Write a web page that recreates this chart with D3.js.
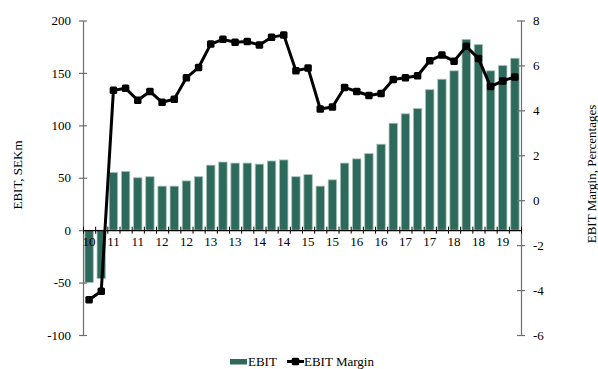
<!DOCTYPE html>
<html>
<head>
<meta charset="utf-8">
<script src="https://cdn.jsdelivr.net/npm/d3@7"></script>
<style>
  html, body { margin: 0; padding: 0; background: #fff; }
  svg { display: block; }
  text { font-family: "Liberation Serif", "Times New Roman", serif; fill: #000; }
</style>
</head>
<body>
<svg id="chart" width="598" height="369"></svg>
<script>
// Quarterly periods, Q3 2010 through Q2 2019
const quarters = [
  "2010Q3","2010Q4","2011Q1","2011Q2","2011Q3","2011Q4",
  "2012Q1","2012Q2","2012Q3","2012Q4","2013Q1","2013Q2",
  "2013Q3","2013Q4","2014Q1","2014Q2","2014Q3","2014Q4",
  "2015Q1","2015Q2","2015Q3","2015Q4","2016Q1","2016Q2",
  "2016Q3","2016Q4","2017Q1","2017Q2","2017Q3","2017Q4",
  "2018Q1","2018Q2","2018Q3","2018Q4","2019Q1","2019Q2"
];

// EBIT, SEKm
const ebit = [
  -50, -46, 55, 56, 50, 51,
  42, 42, 47, 51, 62, 65,
  64, 64, 63, 66, 67, 51,
  53, 42, 48, 64, 68, 73,
  82, 102, 111, 116, 134, 144,
  152, 182, 177, 152, 157, 164
];

// EBIT margin, %
const ebitMargin = [
  -4.43, -4.05, 4.89, 4.98, 4.45, 4.84,
  4.36, 4.50, 5.45, 5.91, 6.95, 7.16,
  7.03, 7.06, 6.91, 7.25, 7.36, 5.76,
  5.88, 4.06, 4.15, 5.02, 4.84, 4.66,
  4.75, 5.37, 5.45, 5.54, 6.21, 6.46,
  6.19, 6.85, 6.31, 5.06, 5.31, 5.49
];

// Year labels shown under every second quarter
const xTickQuarters = ["2010Q3","2011Q1","2011Q3","2012Q1","2012Q3","2013Q1","2013Q3","2014Q1","2014Q3",
                       "2015Q1","2015Q3","2016Q1","2016Q3","2017Q1","2017Q3","2018Q1","2018Q3","2019Q1"];
const xTickLabels   = ["10","11","11","12","12","13","13","14","14","15","15","16","16","17","17","18","18","19"];

const leftTicks  = [-100, -50, 0, 50, 100, 150, 200];
const rightTicks = [-6, -4, -2, 0, 2, 4, 6, 8];

const seriesNames = ["EBIT", "EBIT Margin"];

const BAR_FILL = "#2d6a5b";
const BAR_EDGE = "#a6c2b9";
const AXIS_GREY = "#6e6e6e";

const svg = d3.select("#chart");

const plotLeft = 83, plotRight = 521, plotTop = 20.5, plotBottom = 335;

const x = d3.scaleBand().domain(quarters).range([plotLeft, plotRight]).paddingInner(0).paddingOuter(0);
const xEdges = d3.scaleLinear().domain([0, quarters.length]).range([plotLeft, plotRight]);
const yL = d3.scaleLinear().domain([-100, 200]).range([plotBottom, plotTop]);
const yR = d3.scaleLinear().domain([-6, 8]).range([plotBottom, plotTop]);

const barW = x.bandwidth() * 0.69;
const plainNum = d => String(d);   // hyphen-minus, as in the printed labels

// Bars
svg.append("g")
  .selectAll("rect")
  .data(ebit)
  .join("rect")
  .attr("x", (d, i) => x(quarters[i]) + (x.bandwidth() - barW) / 2)
  .attr("y", d => yL(Math.max(0, d)))
  .attr("width", barW)
  .attr("height", d => Math.abs(yL(d) - yL(0)))
  .attr("fill", BAR_FILL)
  .attr("stroke", BAR_EDGE)
  .attr("stroke-width", 0.8);

// Left axis
const gL = svg.append("g")
  .attr("transform", `translate(${plotLeft},0)`)
  .call(d3.axisLeft(yL).tickValues(leftTicks).tickSize(0).tickPadding(12).tickFormat(plainNum));
gL.select(".domain").attr("stroke", AXIS_GREY).attr("stroke-width", 1.2);
gL.selectAll(".tick line").attr("x1", -4).attr("x2", 4).attr("stroke", AXIS_GREY).attr("stroke-width", 1.2);
gL.selectAll(".tick text").attr("font-size", 13);

// Right axis
const gR = svg.append("g")
  .attr("transform", `translate(${plotRight},0)`)
  .call(d3.axisRight(yR).tickValues(rightTicks).tickSize(0).tickPadding(12).tickFormat(plainNum));
gR.select(".domain").attr("stroke", AXIS_GREY).attr("stroke-width", 1.2);
gR.selectAll(".tick line").attr("x1", -4).attr("x2", 4).attr("stroke", AXIS_GREY).attr("stroke-width", 1.2);
gR.selectAll(".tick text").attr("font-size", 13);

// Category axis along zero: boundary ticks
const gXt = svg.append("g")
  .attr("transform", `translate(0,${yL(0)})`)
  .call(d3.axisBottom(xEdges).tickValues(d3.range(0, quarters.length + 1)).tickSize(0).tickFormat(""));
gXt.select(".domain").attr("stroke", "#000").attr("stroke-width", 1.2);
gXt.selectAll(".tick line").attr("y1", -3.5).attr("y2", 3.5).attr("stroke", "#000").attr("stroke-width", 1);

// Category axis labels
const gX = svg.append("g")
  .attr("transform", `translate(0,${yL(0)})`)
  .call(d3.axisBottom(x).tickValues(xTickQuarters).tickSize(0).tickPadding(7)
    .tickFormat(q => xTickLabels[xTickQuarters.indexOf(q)]));
gX.select(".domain").remove();
gX.selectAll(".tick text").attr("font-size", 13);

// Margin line
const line = d3.line()
  .x((d, i) => x(quarters[i]) + x.bandwidth() / 2)
  .y(d => yR(d));
svg.append("path")
  .datum(ebitMargin)
  .attr("d", line)
  .attr("fill", "none")
  .attr("stroke", "#000")
  .attr("stroke-width", 3)
  .attr("stroke-linejoin", "round");

const mk = 7.5;
svg.append("g")
  .selectAll("rect")
  .data(ebitMargin)
  .join("rect")
  .attr("x", (d, i) => x(quarters[i]) + x.bandwidth() / 2 - mk / 2)
  .attr("y", d => yR(d) - mk / 2)
  .attr("width", mk)
  .attr("height", mk)
  .attr("rx", 1.5)
  .attr("fill", "#000");

// Axis titles
svg.append("text")
  .attr("transform", `translate(22,175) rotate(-90)`)
  .attr("text-anchor", "middle")
  .attr("font-size", 13)
  .text("EBIT, SEKm");

svg.append("text")
  .attr("transform", `translate(596,174) rotate(-90)`)
  .attr("text-anchor", "middle")
  .attr("font-size", 13)
  .text("EBIT Margin, Percentages");

// Legend
const lg = svg.append("g");
lg.append("rect").attr("x", 230).attr("y", 359).attr("width", 17).attr("height", 5.5).attr("fill", BAR_FILL);
lg.append("text").attr("x", 248).attr("y", 366).attr("font-size", 13).text(seriesNames[0]);
lg.append("line").attr("x1", 287).attr("x2", 304).attr("y1", 361.5).attr("y2", 361.5)
  .attr("stroke", "#000").attr("stroke-width", 3);
lg.append("rect").attr("x", 295.5 - mk / 2).attr("y", 361.5 - mk / 2).attr("width", mk).attr("height", mk)
  .attr("rx", 1.5).attr("fill", "#000");
lg.append("text").attr("x", 304).attr("y", 366).attr("font-size", 13).text(seriesNames[1]);
</script>
</body>
</html>
